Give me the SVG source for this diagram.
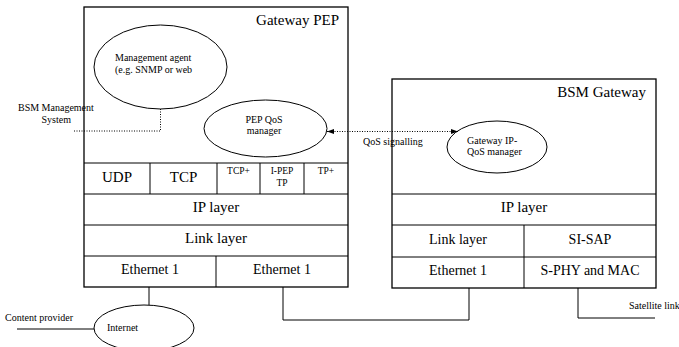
<svg xmlns="http://www.w3.org/2000/svg" width="679" height="347" viewBox="0 0 679 347" font-family="'Liberation Serif', 'Times New Roman', Times, serif">
<style>
text{font-family:'Liberation Serif','Times New Roman',Times,serif;fill:#000}
.box{fill:#fff;stroke:#000;stroke-width:1.3}
.ln{fill:none;stroke:#000;stroke-width:1}
.dot{fill:none;stroke:#000;stroke-width:1;stroke-dasharray:1 1.5}
.ell{fill:#fff;stroke:#000;stroke-width:1}
.t15{font-size:15px}
.t14{font-size:14px}
.t9{font-size:9.5px}
.t10{font-size:10px}
</style>
<defs>
<marker id="ah" viewBox="0 0 10 10" refX="10" refY="5" markerWidth="7" markerHeight="7" orient="auto-start-reverse" markerUnits="userSpaceOnUse">
<path d="M0,1.5 L10,5 L0,8.5 z" fill="#000"/>
</marker>
</defs>

<g id="gateway-pep">
<rect class="box" x="84" y="7" width="264" height="280"/>
<text class="t15" x="339" y="25" text-anchor="end">Gateway PEP</text>
<line class="ln" x1="84" y1="163" x2="348" y2="163"/>
<line class="ln" x1="84" y1="194" x2="348" y2="194"/>
<line class="ln" x1="84" y1="225" x2="348" y2="225"/>
<line class="ln" x1="84" y1="256" x2="348" y2="256"/>
<line class="ln" x1="150" y1="163" x2="150" y2="194"/>
<line class="ln" x1="217" y1="163" x2="217" y2="194"/>
<line class="ln" x1="260" y1="163" x2="260" y2="194"/>
<line class="ln" x1="304" y1="163" x2="304" y2="194"/>
<line class="ln" x1="216" y1="256" x2="216" y2="287"/>
<text class="t15" x="117" y="182" text-anchor="middle">UDP</text>
<text class="t15" x="183.5" y="182" text-anchor="middle">TCP</text>
<text class="t9" x="238.5" y="174" text-anchor="middle">TCP+</text>
<text class="t9" x="282" y="174" text-anchor="middle">I-PEP</text>
<text class="t9" x="282" y="186" text-anchor="middle">TP</text>
<text class="t9" x="326" y="174" text-anchor="middle">TP+</text>
<text class="t15" x="216" y="212" text-anchor="middle">IP layer</text>
<text class="t15" x="216" y="243" text-anchor="middle">Link layer</text>
<text class="t14" x="150" y="274" text-anchor="middle">Ethernet 1</text>
<text class="t14" x="282" y="274" text-anchor="middle">Ethernet 1</text>
</g>

<g id="management-agent">
<ellipse class="ell" cx="160.5" cy="67" rx="66.5" ry="42"/>
<text class="t10" x="115" y="61">Management agent</text>
<text class="t10" x="115" y="73">(e.g. SNMP or web</text>
</g>

<g id="pep-qos-manager">
<ellipse class="ell" cx="265.5" cy="128.5" rx="61.5" ry="28.5"/>
<text class="t10" x="264" y="122.5" text-anchor="middle">PEP QoS</text>
<text class="t10" x="264" y="134" text-anchor="middle">manager</text>
</g>

<g id="bsm-gateway">
<rect class="box" x="392" y="79" width="264" height="209"/>
<text class="t15" x="646" y="97" text-anchor="end">BSM Gateway</text>
<line class="ln" x1="392" y1="194" x2="656" y2="194"/>
<line class="ln" x1="392" y1="225" x2="656" y2="225"/>
<line class="ln" x1="392" y1="257" x2="656" y2="257"/>
<line class="ln" x1="524" y1="225" x2="524" y2="288"/>
<text class="t15" x="524" y="212" text-anchor="middle">IP layer</text>
<text class="t14" x="458" y="244" text-anchor="middle">Link layer</text>
<text class="t14" x="590" y="244" text-anchor="middle">SI-SAP</text>
<text class="t14" x="458" y="275" text-anchor="middle">Ethernet 1</text>
<text class="t14" x="590" y="275" text-anchor="middle">S-PHY and MAC</text>
</g>

<g id="gateway-ip-qos-manager">
<ellipse class="ell" cx="497" cy="147" rx="50" ry="26"/>
<text class="t10" x="467" y="143.5">Gateway  IP-</text>
<text class="t10" x="467" y="155">QoS manager</text>
</g>

<g id="internet">
<ellipse class="ell" cx="144" cy="328" rx="50" ry="23"/>
<text class="t10" x="107" y="331">Internet</text>
</g>

<g id="labels">
<text class="t10" x="18" y="111">BSM Management</text>
<text class="t10" x="41.5" y="122.5">System</text>
<text class="t10" x="5" y="321">Content provider</text>
<text class="t10" x="363" y="145">QoS signalling</text>
<text class="t10" x="629" y="309">Satellite link</text>
</g>

<g id="connectors">
<polyline class="dot" points="160.5,109 160.5,131 73,131"/>
<line class="dot" x1="327" y1="131.5" x2="458" y2="131.5" marker-start="url(#ah)" marker-end="url(#ah)"/>
<line class="ln" x1="149" y1="287" x2="149" y2="305"/>
<line class="ln" x1="17" y1="329" x2="94" y2="329"/>
<polyline class="ln" points="283,287 283,320 469,320 469,288"/>
<polyline class="ln" points="578,288 578,318 655,318"/>
</g>
</svg>
